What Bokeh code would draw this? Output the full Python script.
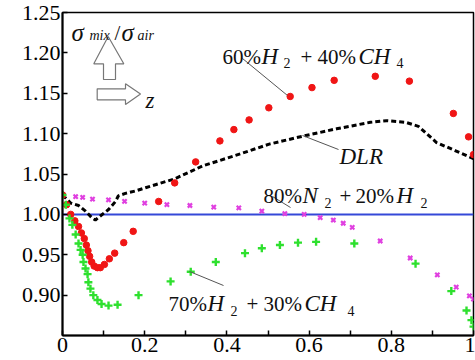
from bokeh.plotting import figure
from bokeh.models import ColumnDataSource, FixedTicker, PrintfTickFormatter
from bokeh.core.properties import value
from bokeh.embed import file_html
from bokeh.resources import INLINE

# ---------------- data ----------------
h60_x = [0.0, 0.01, 0.02, 0.03, 0.039, 0.046, 0.053, 0.058, 0.062, 0.066, 0.071, 0.077, 0.085,
         0.092, 0.102, 0.114, 0.127, 0.149, 0.172, 0.234, 0.273, 0.324, 0.383, 0.417, 0.454,
         0.502, 0.554, 0.607, 0.661, 0.761, 0.844, 0.951, 0.988, 1.0]
h60_y = [1.024, 1.012, 1.000, 0.992, 0.985, 0.977, 0.970, 0.962, 0.955, 0.948, 0.941, 0.936, 0.934,
         0.934, 0.938, 0.945, 0.952, 0.965, 0.979, 1.016, 1.039, 1.065, 1.091, 1.105, 1.117,
         1.132, 1.146, 1.157, 1.166, 1.171, 1.165, 1.125, 1.096, 1.074]

h70_x = [0.0, 0.008, 0.017, 0.024, 0.032, 0.039, 0.044, 0.049, 0.051, 0.056, 0.061, 0.063, 0.068,
         0.075, 0.085, 0.095, 0.112, 0.134, 0.185, 0.263, 0.312, 0.373, 0.444, 0.485, 0.529,
         0.573, 0.617, 0.710, 0.859, 0.946, 0.983, 0.995, 1.0]
h70_y = [1.024, 1.012, 0.995, 0.987, 0.975, 0.964, 0.956, 0.950, 0.941, 0.933, 0.926, 0.916, 0.908,
         0.900, 0.894, 0.889, 0.887, 0.888, 0.900, 0.917, 0.929, 0.941, 0.952, 0.958, 0.962,
         0.965, 0.966, 0.964, 0.939, 0.905, 0.881, 0.869, 0.861]

n80_x = [0.002, 0.032, 0.049, 0.073, 0.112, 0.151, 0.2, 0.254, 0.310, 0.368, 0.429, 0.485, 0.541,
         0.588, 0.627, 0.659, 0.683, 0.705, 0.773, 0.846, 0.912, 0.958, 0.990, 1.0]
n80_y = [1.024, 1.022, 1.021, 1.019, 1.018, 1.016, 1.014, 1.012, 1.011, 1.009, 1.008, 1.004, 1.001,
         1.000, 0.996, 0.993, 0.989, 0.984, 0.967, 0.946, 0.925, 0.910, 0.899, 0.895]

dlr_x = [0.0, 0.02, 0.039, 0.056, 0.073, 0.080, 0.092, 0.112, 0.129, 0.136, 0.153, 0.178, 0.202,
         0.273, 0.341, 0.421, 0.503, 0.586, 0.667, 0.749, 0.788, 0.835, 0.866, 0.910, 0.955, 1.0]
dlr_y = [1.024, 1.014, 1.011, 1.004, 0.995, 0.993, 0.998, 1.006, 1.016, 1.023, 1.026, 1.029, 1.033,
         1.044, 1.060, 1.073, 1.087, 1.097, 1.106, 1.114, 1.116, 1.114, 1.109, 1.089, 1.079, 1.069]

air_x = [0.0, 1.0]
air_y = [1.0, 1.0]

x_ticks = [0, 0.2, 0.4, 0.6, 0.8, 1.0]
x_tick_labels = ["0", "0.2", "0.4", "0.6", "0.8", "1"]
x_minor = [0.1, 0.3, 0.5, 0.7, 0.9]
y_ticks = [0.90, 0.95, 1.00, 1.05, 1.10, 1.15, 1.20, 1.25]

# ---------------- figure ----------------
X0, X1, Y0, Y1 = 0.0, 1.0, 0.85, 1.25
L, R, T, B = 62, 473, 12, 335  # frame pixel box

def dx(px):
    return X0 + (px - L) / (R - L) * (X1 - X0)

def dy(py):
    return Y1 - (py - T) / (B - T) * (Y1 - Y0)

FONT_NAME = "Liberation Serif"
FONT = value(FONT_NAME)

p = figure(width=475, height=360, output_backend="svg", toolbar_location=None,
           x_range=(X0, X1), y_range=(Y0, Y1),
           min_border_left=L, min_border_right=475 - R, min_border_top=T,
           min_border_bottom=360 - B)
p.grid.visible = False
p.outline_line_color = "black"
p.outline_line_width = 1.5
p.background_fill_color = "white"
p.border_fill_color = "white"

for ax in (p.xaxis[0], p.yaxis[0]):
    ax.axis_line_width = 2
    ax.axis_line_color = "black"
    ax.major_tick_in = 5
    ax.major_tick_out = 0
    ax.minor_tick_in = 5
    ax.minor_tick_out = 0
    ax.major_tick_line_width = 1.5
    ax.minor_tick_line_width = 1.5
    ax.major_label_text_font = FONT_NAME
    ax.major_label_text_font_size = "22px"
    ax.major_label_text_color = "black"
    ax.major_label_standoff = 2

p.xaxis.ticker = FixedTicker(ticks=x_ticks, minor_ticks=x_minor)
p.xaxis.major_label_overrides = {t: s for t, s in zip(x_ticks, x_tick_labels)}
p.yaxis.ticker = FixedTicker(ticks=y_ticks, minor_ticks=[])
p.yaxis.formatter = PrintfTickFormatter(format="%.2f")

# reference line and DLR
p.line(air_x, air_y, line_color="#3548d8", line_width=2)
p.line(dlr_x, dlr_y, line_color="black", line_width=3, line_dash="5 3")

# series markers
p.scatter(n80_x, n80_y, marker="x", size=6, line_color="#e040e0", line_width=2.2)
p.scatter(h60_x, h60_y, marker="circle", size=6.5, fill_color="#f01515", line_color="#f01515")
p.scatter(h70_x, h70_y, marker="cross", size=8, line_color="#2ee02e", line_width=2.4)

# leader lines
leaders = [((242, 58), (287, 95)), ((302, 135), (338, 149)),
           ((272, 196), (290, 207)), ((189, 271), (223, 285))]
p.multi_line([[dx(a[0]), dx(b[0])] for a, b in leaders],
             [[dy(a[1]), dy(b[1])] for a, b in leaders],
             line_color="#555555", line_width=1)

# hollow arrows
up = [(103, 79), (103, 63.3), (93.3, 63.3), (107.7, 36), (123.3, 63.3), (115, 63.3), (115, 79)]
rt = [(96.7, 88.3), (125, 88.3), (125, 83.3), (140, 93.5), (125, 104), (125, 99.3), (96.7, 99.3)]
for poly in (up, rt):
    p.patch([dx(a) for a, _ in poly], [dy(b) for _, b in poly],
            fill_color="white", line_color="#777777", line_width=1.2)

# text segments: (text, px, baseline_py, style)
segs = [
    # 60%H2 + 40%CH4
    ("60%", 222, 56, "r"), ("H", 261, 56, "i"), ("2", 283, 62, "s"), ("+", 300, 56, "r"),
    ("40%", 317, 56, "r"), ("CH", 358, 56, "i"), ("4", 396, 62, "s"),
    # 70%H2 + 30%CH4
    ("70%", 168, 303, "r"), ("H", 207, 303, "i"), ("2", 230, 310, "s"), ("+", 246, 303, "r"),
    ("30%", 263, 303, "r"), ("CH", 304, 303, "i"), ("4", 347, 310, "s"),
    # 80%N2 + 20%H2
    ("80%", 263, 195, "r"), ("N", 302, 195, "i"), ("2", 324, 202, "s"), ("+", 339, 195, "r"),
    ("20%", 355, 195, "r"), ("H", 396, 195, "i"), ("2", 420, 202, "s"),
    # DLR
    ("DLR", 339, 156, "i"),
    # axis label sigma_mix / sigma_air and z
    ("σ", 71, 32, "g"), ("mix", 89, 35, "si"), ("/", 114, 32, "r"), ("σ", 121, 32, "g"),
    ("air", 137, 35, "si"), ("z", 145, 100, "i"),
]
styles = {
    "r": dict(size="21px", style="normal"),
    "i": dict(size="23px", style="italic"),
    "s": dict(size="14px", style="normal"),
    "g": dict(size="25px", style="italic"),
    "si": dict(size="14px", style="italic"),
}
for key, st in styles.items():
    rows = [s for s in segs if s[3] == key]
    src = ColumnDataSource(dict(x=[dx(s[1]) for s in rows], y=[dy(s[2]) for s in rows],
                                t=[s[0] for s in rows]))
    p.text(x="x", y="y", text="t", source=src, text_font=FONT,
           text_font_size=st["size"], text_font_style=st["style"],
           text_color="#111111", text_baseline="alphabetic", text_align="left")

open("out.html", "w").write(file_html(p, INLINE))
